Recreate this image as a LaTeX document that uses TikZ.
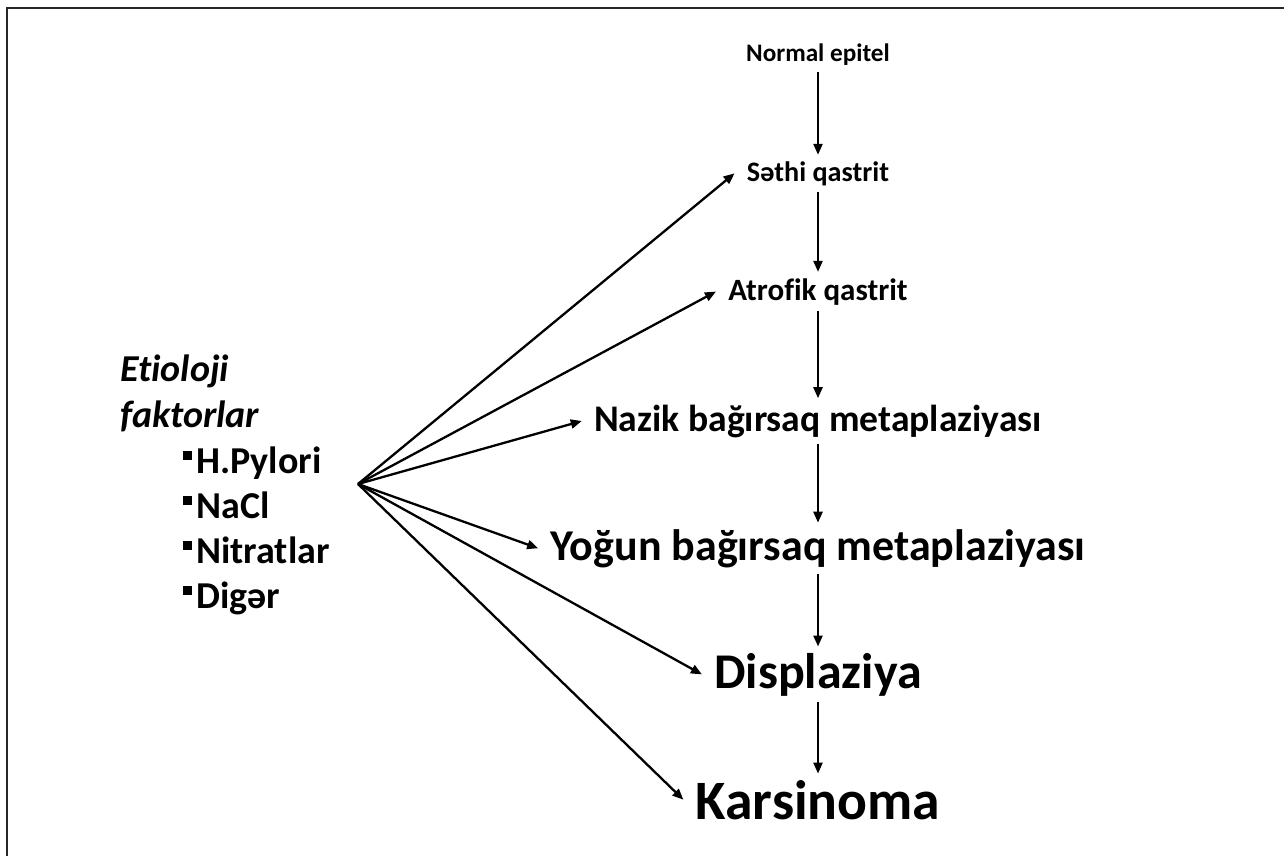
\documentclass[tikz,border=0pt]{standalone}
\usepackage{fontspec}
\setmainfont[Ligatures=NoCommon]{Carlito}
\usetikzlibrary{arrows.meta}
\tikzset{
  x=0.5pt, y=-0.5pt,
  stage/.style={font=\bfseries, inner xsep=6pt, inner ysep=3pt, anchor=base},
  leftline/.style={font=\bfseries\fontsize{19}{22}\selectfont, inner sep=0pt, anchor=base west},
  arr/.style={line width=1.15pt, -{Triangle[length=5.5pt,width=4.5pt]}},
  frame/.style={line width=1.1pt, black!85},
}
\newcommand{\sqbullet}{\raisebox{6.6pt}{\rule{4.2pt}{4.2pt}}\hspace{2.2pt}}
\begin{document}
\begin{tikzpicture}
\useasboundingbox (0,0) rectangle (1284,856);
\draw[frame] (1284,8) -- (7,8) -- (7,856);

% right column
\node[stage, font=\bfseries\fontsize{12.6}{15}\selectfont] (n1) at (818,62) {Normal epitel};
\node[stage, font=\bfseries\fontsize{14.1}{17}\selectfont] (n2) at (818,181) {Səthi qastrit};
\node[stage, font=\bfseries\fontsize{15.5}{18}\selectfont] (n3) at (818,300) {Atrofik qastrit};
\node[stage, font=\bfseries\fontsize{18.8}{22}\selectfont] (n4) at (818,431) {Nazik bağırsaq metaplaziyası};
\node[stage, font=\bfseries\fontsize{22}{26}\selectfont] (n5) at (818,560) {Yoğun bağırsaq metaplaziyası};
\node[stage, font=\bfseries\fontsize{25}{30}\selectfont] (n6) at (818,688) {Displaziya};
\node[stage, font=\bfseries\fontsize{27.8}{33}\selectfont] (n7) at (818,819) {Karsinoma};

\draw[arr] (n1) -- (n2);
\draw[arr] (n2) -- (n3);
\draw[arr] (n3) -- (n4);
\draw[arr] (n4) -- (n5);
\draw[arr] (n5) -- (n6);
\draw[arr] (n6) -- (n7);

% left block
\node[leftline, font=\bfseries\itshape\fontsize{19}{22}\selectfont] (l1) at (120,381) {Etioloji};
\node[leftline, font=\bfseries\itshape\fontsize{19}{22}\selectfont] (l2) at (120,427) {faktorlar};
\node[leftline] (b1) at (183,473) {\sqbullet H.Pylori};
\node[leftline] (b2) at (183,518) {\sqbullet NaCl};
\node[leftline] (b3) at (183,563) {\sqbullet Nitratlar};
\node[leftline] (b4) at (183,608) {\sqbullet Digər};

\coordinate (src) at (358,484);
\draw[arr] (src) -- (n2.west);
\draw[arr] (src) -- (n3.west);
\draw[arr] (src) -- (n4.west);
\draw[arr] (src) -- (n5.west);
\draw[arr] (src) -- (n6.west);
\draw[arr] (src) -- (n7.west);
\end{tikzpicture}
\end{document}
